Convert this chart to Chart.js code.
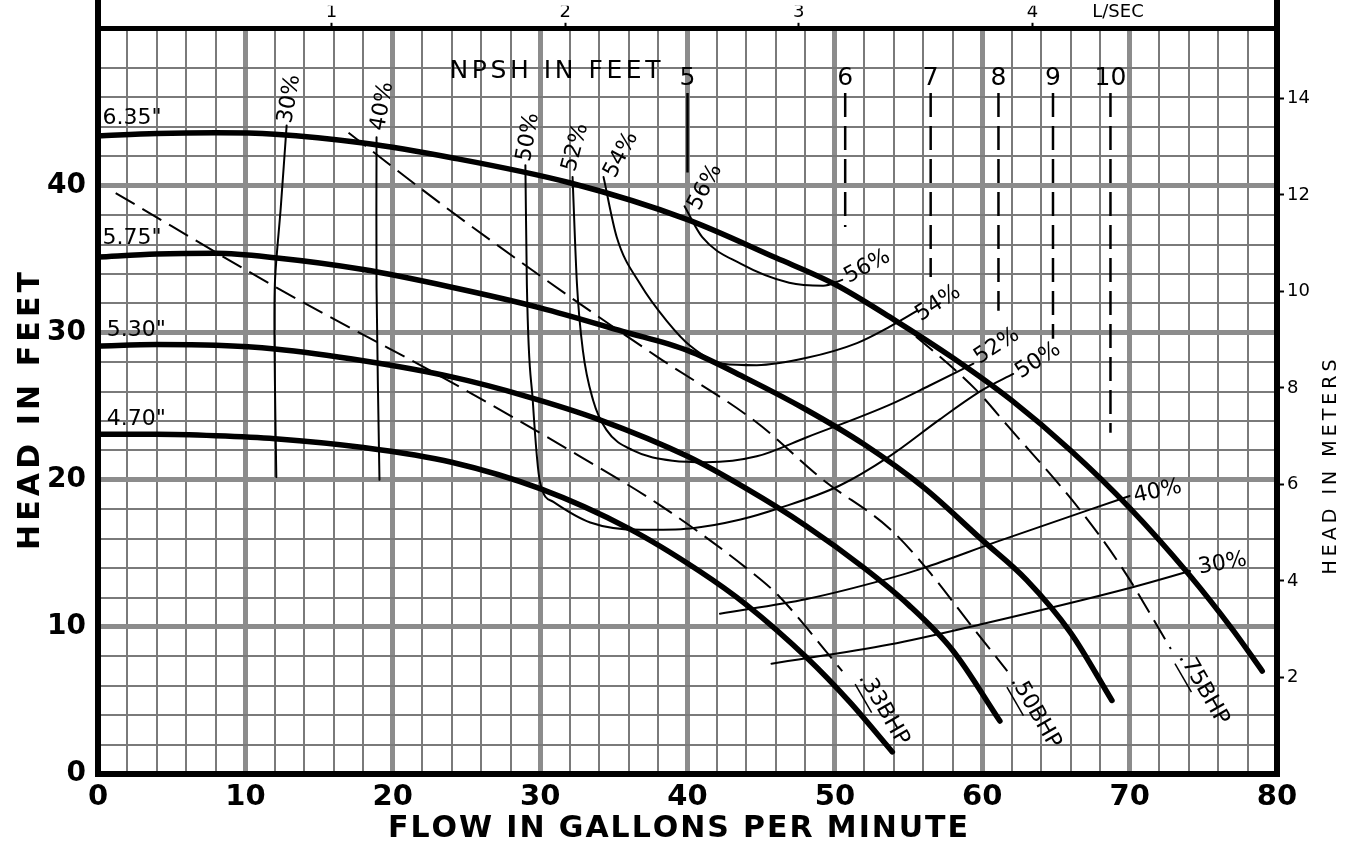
<!DOCTYPE html>
<html>
<head>
<meta charset="utf-8">
<script src="https://cdn.jsdelivr.net/npm/chart.js@4/dist/chart.umd.min.js"></script>
<style>
  html, body { margin: 0; padding: 0; background: #fff; }
  canvas { display: block; }
</style>
</head>
<body>
<canvas id="pumpChart" width="1348" height="846"></canvas>
<script>
// --- impeller head curves: [flow gpm, head ft] ---
const imp635 = [[0,43.4],[4,43.55],[8,43.6],[12,43.5],[18,42.9],[24,41.9],[32,40.2],[40,37.7],[46,35.1],[50,33.3],[54,30.9],[58,28.3],[62,25.4],[66,22.0],[70,18.1],[74,13.6],[77,9.8],[79,7.0]];
const imp575 = [[0,35.15],[4,35.35],[8,35.4],[12,35.1],[18,34.3],[24,33.1],[30,31.7],[35.6,30.1],[40,28.8],[44,26.9],[48,24.8],[52,22.4],[56,19.5],[60,15.9],[63,13.2],[66,9.6],[68.8,5.0]];
const imp530 = [[0,29.1],[4,29.2],[8,29.15],[12,28.9],[18,28.1],[24,27.0],[29,25.7],[34,24.1],[40,21.6],[44,19.4],[48,16.9],[52,14.0],[55,11.5],[58,8.4],[61.2,3.6]];
const imp470 = [[0,23.1],[4,23.1],[8,23.0],[12,22.8],[18,22.2],[24,21.2],[30,19.4],[36,16.7],[40.8,13.8],[44,11.5],[48.1,7.9],[51,4.9],[53.9,1.5]];

// --- efficiency curves ---
const eff30a = [[12.8,44.1],[12.4,38.5],[12.0,33.3],[12.0,27.0],[12.1,20.2]];
const eff40a = [[18.9,43.3],[18.9,33.1],[19.1,20.0]];
const eff50 = [[29.0,41.4],[29.1,33.3],[29.5,25.4],[30.0,19.8],[30.9,18.5],[33.4,17.1],[36.8,16.6],[40.2,16.7],[43.6,17.3],[46.3,18.1],[50.3,19.6],[53.7,21.6],[57.1,24.1],[60.0,26.1],[62.1,27.2]];
const eff52 = [[32.2,40.6],[32.5,33.3],[32.9,28.8],[33.6,25.4],[34.5,23.4],[36.3,22.0],[39.0,21.3],[41.3,21.2],[44.7,21.6],[48.1,22.9],[53.7,25.1],[56.4,26.4],[59.4,27.9]];
const eff54 = [[34.3,40.6],[35.2,36.5],[36.8,33.3],[38.6,30.8],[40.2,29.1],[42.4,27.9],[44.7,27.8],[48.1,28.3],[51.5,29.3],[53.7,30.4],[55.6,31.5]];
const eff56 = [[39.8,38.6],[41.0,36.5],[43.6,34.7],[46.9,33.4],[49.2,33.2],[50.5,33.6]];
const eff40b = [[42.2,10.9],[48.1,11.9],[53.7,13.3],[56.0,14.0],[61.0,15.8],[70.0,18.9]];
const eff30b = [[45.7,7.5],[53.7,8.8],[60.0,10.2],[70.2,12.7],[74.1,13.8]];

// --- brake horsepower lines ---
const bhp33 = [[1.2,39.5],[12.6,32.8],[23.5,26.9],[32.7,21.6],[38.1,18.3],[44.0,14.0],[46.1,12.2],[50.5,7.0]];
const bhp50 = [[17.0,43.6],[23.5,38.6],[31.8,32.6],[37.9,28.4],[44.7,23.9],[49.2,20.0],[53.7,16.7],[56.2,14.0],[59.4,9.9],[61.7,7.0]];
const bhp75 = [[53.9,31.1],[59.6,26.1],[61.7,23.7],[66.6,18.0],[69.5,14.0],[72.8,8.5]];

// --- NPSH verticals ---
const npshFeet = [5, 6, 7, 8, 9, 10];
const npshFlow = [40.0, 50.7, 56.5, 61.1, 64.8, 68.7];
const npshLow = [40.9, 37.2, 33.8, 31.5, 29.6, 23.2];
const npshHigh = 46.3;

// --- tick labels ---
const flowTicks = [0, 10, 20, 30, 40, 50, 60, 70, 80];
const headTicks = [0, 10, 20, 30, 40, 50];
const meterTicks = [2, 4, 6, 8, 10, 12, 14];
const lpsTicks = [1, 2, 3, 4, 5];

const GPM_PER_LPS = 15.850;
const FT_PER_M = 3.2808;
const yTop = 50.67;

// text placed on the plot: [text, gpm, ft, angle deg]
const curveLabels = [
  ['6.35"', 0.3, 44.6, 0], ['5.75"', 0.3, 36.4, 0], ['5.30"', 0.6, 30.2, 0], ['4.70"', 0.6, 24.1, 0]
];
const effLabels = [
  ['30%', 13.0, 45.9, -80], ['40%', 19.3, 45.4, -80], ['50%', 29.2, 43.3, -80], ['52%', 32.4, 42.6, -75],
  ['54%', 35.5, 42.1, -62], ['56%', 41.2, 39.9, -62], ['56%', 52.2, 34.5, -28], ['54%', 57.0, 32.0, -33],
  ['52%', 61.0, 29.1, -33], ['50%', 63.8, 28.1, -33], ['40%', 71.9, 19.2, -12], ['30%', 76.3, 14.3, -10]
];
const bhpLabels = [['.33', 'BHP', 53.3, 4.4, 60], ['.50', 'BHP', 63.6, 4.2, 60], ['.75', 'BHP', 75.0, 5.8, 60]];

const pts = arr => arr.map(p => ({ x: p[0], y: p[1] }));

function curve(label, arr, width, dash, mode) {
  return {
    label, data: pts(arr), showLine: true, borderColor: '#000', borderWidth: width,
    borderDash: dash || [], borderCapStyle: dash ? 'butt' : 'round', pointRadius: 0,
    cubicInterpolationMode: mode || 'monotone', tension: 0.3, fill: false
  };
}

const datasets = [
  curve('6.35', imp635, 5.5), curve('5.75', imp575, 5.5), curve('5.30', imp530, 5.5), curve('4.70', imp470, 5.5),
  curve('30a', eff30a, 2, null, 'default'), curve('40a', eff40a, 2, null, 'default'),
  curve('50', eff50, 2), curve('52', eff52, 2), curve('54', eff54, 2), curve('56', eff56, 2),
  curve('40b', eff40b, 2), curve('30b', eff30b, 2),
  curve('.33', bhp33, 2, [22, 9]), curve('.50', bhp50, 2, [22, 9]), curve('.75', bhp75, 2, [22, 9])
];
npshFeet.forEach((n, i) => {
  const d = curve('npsh' + n, [[npshFlow[i], npshHigh], [npshFlow[i], npshLow[i]]], 2.5, n === 5 ? null : [24, 9], 'default');
  d.tension = 0;
  d.borderCapStyle = 'butt';
  datasets.push(d);
});

function spaced(ctx, text, cx, cy, width, font, rot) {
  ctx.save();
  ctx.translate(cx, cy);
  ctx.rotate(rot);
  ctx.font = font;
  ctx.textBaseline = 'middle';
  ctx.textAlign = 'left';
  const chars = [...text];
  const w = chars.map(c => ctx.measureText(c).width);
  const gap = (width - w.reduce((a, b) => a + b, 0)) / (chars.length - 1);
  let x = -width / 2;
  chars.forEach((c, i) => { ctx.fillText(c, x, 0); x += w[i] + gap; });
  ctx.restore();
}

const decor = {
  id: 'decor',
  afterDraw(chart) {
    const { ctx, chartArea: a, scales: { x, y } } = chart;
    ctx.save();
    ctx.fillStyle = '#000';
    ctx.strokeStyle = '#000';

    // borders run up past the top line
    ctx.lineWidth = 6;
    ctx.beginPath();
    ctx.moveTo(a.left, 0); ctx.lineTo(a.left, a.top);
    ctx.moveTo(a.right, 0); ctx.lineTo(a.right, a.top);
    ctx.stroke();

    // axis titles
    spaced(ctx, 'FLOW IN GALLONS PER MINUTE', 678, 829, 580, 'bold 30px "DejaVu Sans"', 0);
    spaced(ctx, 'HEAD IN FEET', 31, 411, 278, 'bold 30px "DejaVu Sans"', -Math.PI / 2);
    spaced(ctx, 'HEAD IN METERS', 1331, 467, 215, '19px "DejaVu Sans"', -Math.PI / 2);
    ctx.font = '18px "DejaVu Sans"';
    ctx.textAlign = 'center';
    ctx.textBaseline = 'middle';
    ctx.fillText('L/SEC', 1118, 12);

    // NPSH header and numbers
    spaced(ctx, 'NPSH IN FEET', 555, 71, 211, '25px "DejaVu Sans"', 0);
    ctx.font = '25px "DejaVu Sans"';
    npshFeet.forEach((n, i) => ctx.fillText(String(n), x.getPixelForValue(npshFlow[i]), y.getPixelForValue(47.3)));

    // curve labels
    const put = (t, gx, hy, deg, font) => {
      ctx.save();
      ctx.translate(x.getPixelForValue(gx), y.getPixelForValue(hy));
      ctx.rotate(deg * Math.PI / 180);
      ctx.font = font;
      ctx.fillText(t, 0, 0);
      ctx.restore();
    };
    ctx.textAlign = 'left';
    curveLabels.forEach(l => put(l[0], l[1], l[2], l[3], '22px "DejaVu Sans"'));
    ctx.textAlign = 'center';
    effLabels.forEach(l => put(l[0], l[1], l[2], l[3], '22px "DejaVu Sans"'));

    bhpLabels.forEach(l => {
      ctx.save();
      ctx.translate(x.getPixelForValue(l[2]), y.getPixelForValue(l[3]));
      ctx.rotate(l[4] * Math.PI / 180);
      ctx.font = '22px "DejaVu Sans"';
      const t = l[0] + l[1];
      const tw = ctx.measureText(t).width;
      const dw = ctx.measureText(l[0]).width;
      ctx.textAlign = 'left';
      ctx.fillText(t, -tw / 2, 0);
      ctx.lineWidth = 1.5;
      ctx.beginPath();
      ctx.moveTo(-tw / 2 + 4, 12); ctx.lineTo(-tw / 2 + dw + 2, 12);
      ctx.stroke();
      ctx.restore();
    });
    ctx.restore();
  }
};

const major = v => Math.abs(v % 10) < 1e-6;

new Chart(document.getElementById('pumpChart'), {
  type: 'scatter',
  data: { datasets },
  options: {
    responsive: false,
    animation: false,
    devicePixelRatio: 1,
    layout: { padding: 0 },
    plugins: { legend: { display: false }, tooltip: { enabled: false } },
    scales: {
      x: {
        type: 'linear', position: 'bottom', min: 0, max: 80,
        afterFit: s => { s.height = 72; },
        ticks: {
          stepSize: 2, autoSkip: false, maxRotation: 0, padding: 6, color: '#000',
          font: { family: 'DejaVu Sans', size: 29, weight: 'bold' },
          callback: v => flowTicks.includes(v) ? v : ''
        },
        grid: {
          drawTicks: false,
          color: c => major(c.tick.value) ? '#8c8c8c' : '#7a7a7a',
          lineWidth: c => major(c.tick.value) ? 5 : 2
        },
        border: { display: true, color: '#000', width: 6 }
      },
      y: {
        type: 'linear', position: 'left', min: 0, max: yTop,
        afterFit: s => { s.width = 98; },
        ticks: {
          stepSize: 2, autoSkip: false, padding: 12, color: '#000',
          font: { family: 'DejaVu Sans', size: 28, weight: 'bold' },
          callback: v => headTicks.includes(v) ? v : ''
        },
        grid: {
          drawTicks: false,
          color: c => (c.tick.value > 49) ? 'rgba(0,0,0,0)' : (major(c.tick.value) ? '#8c8c8c' : '#7a7a7a'),
          lineWidth: c => major(c.tick.value) ? 5 : 2
        },
        border: { display: true, color: '#000', width: 6 }
      },
      y2: {
        type: 'linear', position: 'right', min: 0, max: yTop / FT_PER_M,
        afterFit: s => { s.width = 71; },
        ticks: {
          stepSize: 2, autoSkip: false, padding: 3, color: '#000',
          font: { family: 'DejaVu Sans', size: 18 },
          callback: v => meterTicks.includes(v) ? v : ''
        },
        grid: {
          drawOnChartArea: false, drawTicks: true, tickLength: 7, tickWidth: 2,
          tickColor: c => meterTicks.includes(c.tick.value) ? '#000' : 'rgba(0,0,0,0)'
        },
        border: { display: true, color: '#000', width: 6 }
      },
      x2: {
        type: 'linear', position: 'top', min: 0, max: 80 / GPM_PER_LPS,
        afterFit: s => { s.height = 23; },
        ticks: {
          stepSize: 1, autoSkip: false, maxRotation: 0, padding: 0, color: '#000',
          font: { family: 'DejaVu Sans', size: 18 },
          callback: v => lpsTicks.includes(v) ? v : ''
        },
        grid: {
          drawOnChartArea: false, drawTicks: true, tickLength: 6, tickWidth: 2,
          tickColor: c => lpsTicks.includes(c.tick.value) ? '#000' : 'rgba(0,0,0,0)'
        },
        border: { display: true, color: '#000', width: 5 }
      }
    }
  },
  plugins: [decor]
});
</script>
</body>
</html>
